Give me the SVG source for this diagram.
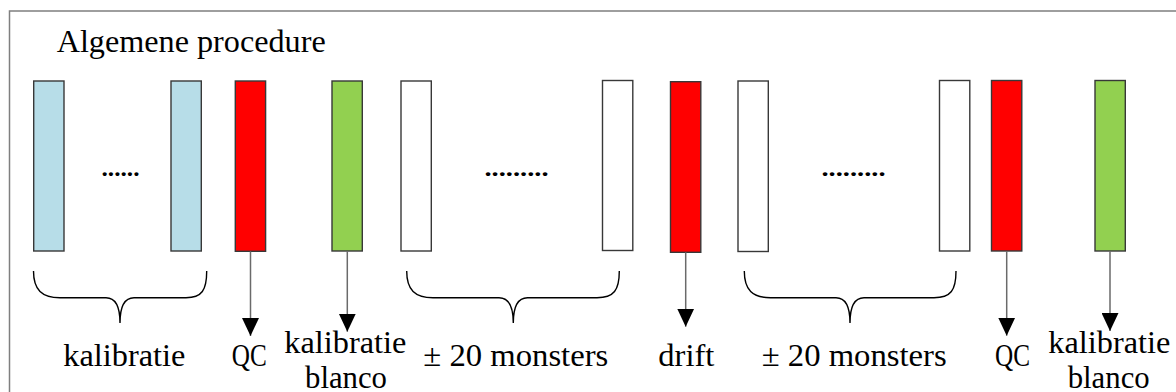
<svg xmlns="http://www.w3.org/2000/svg" width="1176" height="392" viewBox="0 0 1176 392">
<style>
  .bar{stroke:#383838;stroke-width:1.4}
  .blue{fill:#B7DDE8}
  .red{fill:#FF0000}
  .green{fill:#92D050}
  .white{fill:#FFFFFF}
  .lbl{font-family:"Liberation Serif","DejaVu Serif",serif;font-size:31px;fill:#000}
  .dots{font-family:"Liberation Serif","DejaVu Serif",serif;font-size:24px;font-weight:bold;fill:#000}
  .brace{fill:none;stroke:#000;stroke-width:1.4}
  .shaft{stroke:#6a6a6a;stroke-width:1.5;fill:none}
</style>
<defs>
  <marker id="head" viewBox="0 0 18 17" refX="18" refY="8.5" markerWidth="18" markerHeight="17" markerUnits="userSpaceOnUse" orient="auto">
    <path d="M0,0 L18,8.5 L0,17 z" fill="#000"/>
  </marker>
</defs>
<rect x="0" y="0" width="1176" height="392" fill="#fff"/>
<rect x="9.5" y="11" width="1200" height="420" fill="none" stroke="#7f7f7f" stroke-width="1.5"/>
<text class="lbl" x="56.7" y="51.7" textLength="269" lengthAdjust="spacingAndGlyphs">Algemene procedure</text>

<g id="cal1"><rect class="bar blue" x="33.7" y="81" width="30.3" height="170"/></g>
<g id="caldots"><text class="dots" x="101.5" y="175.5" textLength="38" lengthAdjust="spacingAndGlyphs">......</text></g>
<g id="cal2"><rect class="bar blue" x="171" y="81" width="30.3" height="170"/></g>
<g id="qc1"><rect class="bar red" x="235.3" y="81" width="30.3" height="170.3"/></g>
<g id="blank1"><rect class="bar green" x="332" y="81" width="30.3" height="170"/></g>
<g id="s1"><rect class="bar white" x="401" y="81" width="30.3" height="170"/></g>
<g id="s1dots"><text class="dots" x="484.5" y="175.5" textLength="64" lengthAdjust="spacingAndGlyphs">.........</text></g>
<g id="s2"><rect class="bar white" x="602.5" y="80.5" width="30.3" height="170"/></g>
<g id="drift"><rect class="bar red" x="670.5" y="81.7" width="30.3" height="170.6"/></g>
<g id="s3"><rect class="bar white" x="738" y="81" width="30.3" height="170.5"/></g>
<g id="s3dots"><text class="dots" x="821.5" y="175.5" textLength="64" lengthAdjust="spacingAndGlyphs">.........</text></g>
<g id="s4"><rect class="bar white" x="939.5" y="80.5" width="30.3" height="170.5"/></g>
<g id="qc2"><rect class="bar red" x="991.5" y="80.5" width="30.3" height="170.5"/></g>
<g id="blank2"><rect class="bar green" x="1095" y="80.5" width="30.3" height="170.5"/></g>

<g id="connectors">
  <path class="brace" d="M33.5,271 C33.5,290 42,297.7 60,297.7 L106,297.7 C115,297.7 120,305 120,323 C120,305 125,297.7 134,297.7 L186,297.7 C202,297.7 206.7,290 206.7,271"/>
  <path class="brace" d="M406.7,271 C406.7,290 415,297.7 433,297.7 L499,297.7 C508,297.7 513.3,305 513.3,323 C513.3,305 518.5,297.7 527.5,297.7 L597,297.7 C614,297.7 619.3,290 619.3,271"/>
  <path class="brace" d="M744.3,271 C744.3,290 752.5,297.7 770.5,297.7 L836,297.7 C845,297.7 850,305 850,323 C850,305 855,297.7 864,297.7 L934,297.7 C951,297.7 956,290 956,271"/>
  <line class="shaft" x1="250.5" y1="251.3" x2="250.5" y2="336" marker-end="url(#head)"/>
  <line class="shaft" x1="347.3" y1="251" x2="347.3" y2="331.7" marker-end="url(#head)"/>
  <line class="shaft" x1="685.7" y1="252.3" x2="685.7" y2="326.7" marker-end="url(#head)"/>
  <line class="shaft" x1="1006.7" y1="251" x2="1006.7" y2="335.7" marker-end="url(#head)"/>
  <line class="shaft" x1="1110" y1="251" x2="1110" y2="331" marker-end="url(#head)"/>
</g>

<g id="labels">
  <text class="lbl" x="63.3" y="366" textLength="122" lengthAdjust="spacingAndGlyphs">kalibratie</text>
  <text class="lbl" x="231.7" y="366" textLength="35" lengthAdjust="spacingAndGlyphs">QC</text>
  <text class="lbl" x="284.3" y="353" textLength="122" lengthAdjust="spacingAndGlyphs">kalibratie</text>
  <text class="lbl" x="305" y="388" textLength="82" lengthAdjust="spacingAndGlyphs">blanco</text>
  <text class="lbl" x="423.3" y="366" textLength="185" lengthAdjust="spacingAndGlyphs">± 20 monsters</text>
  <text class="lbl" x="658.3" y="366" textLength="56" lengthAdjust="spacingAndGlyphs">drift</text>
  <text class="lbl" x="761.7" y="366" textLength="185" lengthAdjust="spacingAndGlyphs">± 20 monsters</text>
  <text class="lbl" x="995" y="366" textLength="35" lengthAdjust="spacingAndGlyphs">QC</text>
  <text class="lbl" x="1048.3" y="353" textLength="122" lengthAdjust="spacingAndGlyphs">kalibratie</text>
  <text class="lbl" x="1067.7" y="388" textLength="82" lengthAdjust="spacingAndGlyphs">blanco</text>
</g>
</svg>
